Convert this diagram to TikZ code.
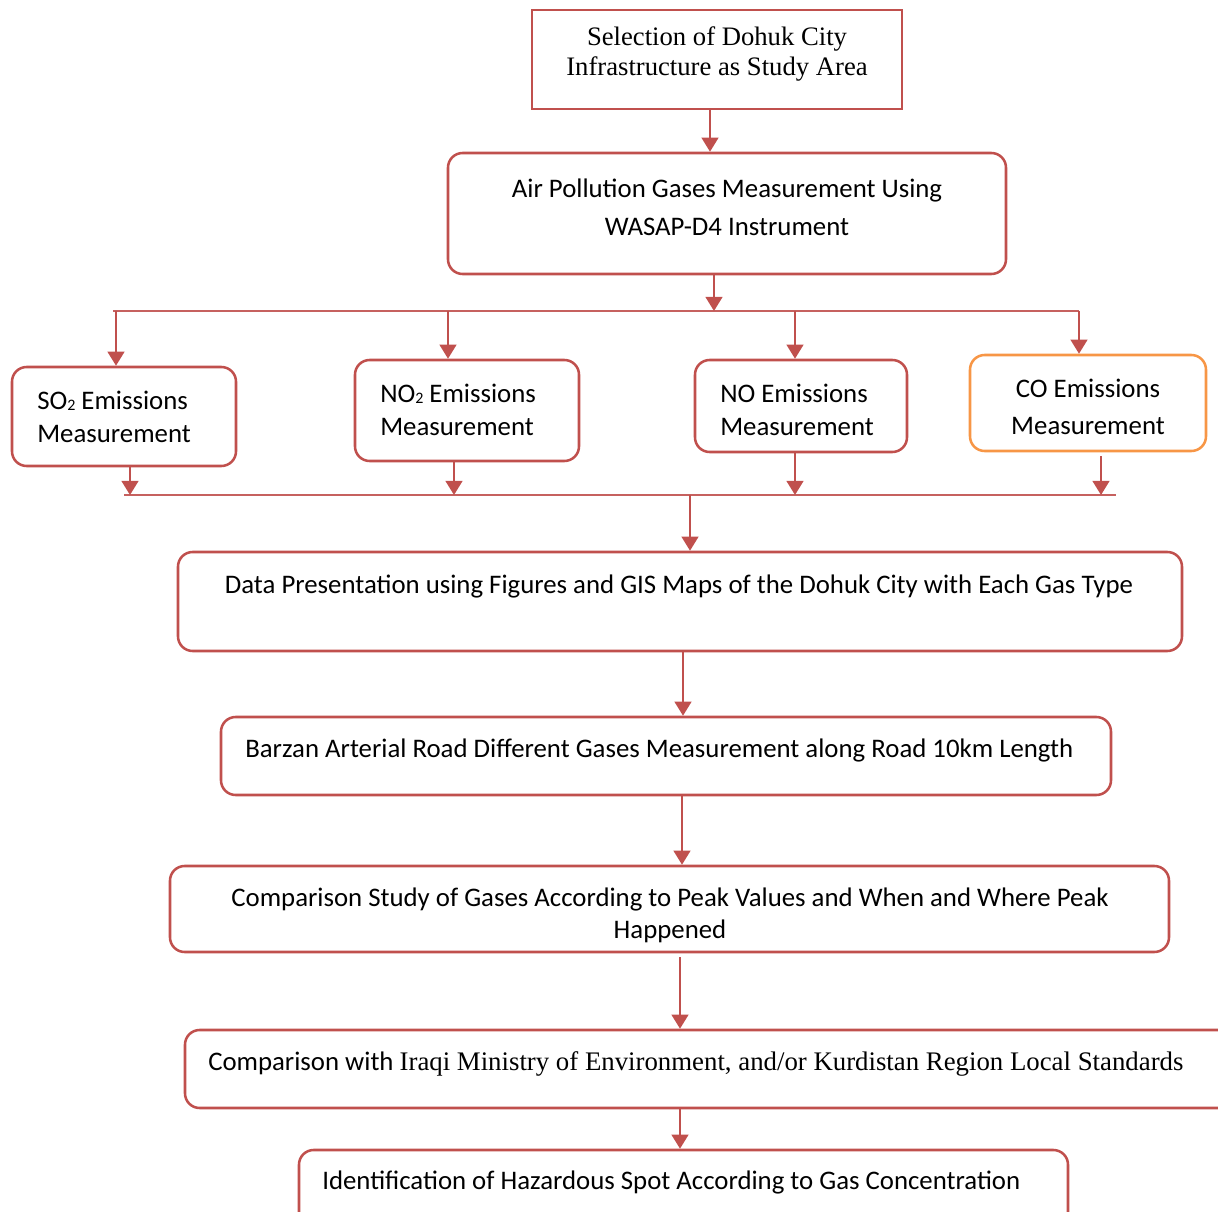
\documentclass[tikz,border=0pt]{standalone}
\usepackage{fontspec}
\setmainfont{Carlito}
\newfontfamily\tnr{Liberation Serif}
\usetikzlibrary{arrows.meta,fit}
\definecolor{rd}{HTML}{C0504D}
\definecolor{og}{HTML}{F79646}
\newcommand\gsub[1]{\raisebox{-1pt}{\fontsize{12}{12}\selectfont #1}}
\begin{document}
\begin{tikzpicture}[x=0.75pt,y=-0.75pt,
  box/.style={draw=rd,line width=1.9pt,rounded corners=11pt,inner sep=0pt},
  sq/.style={box,rounded corners=0pt},
  obox/.style={box,draw=og},
  txt/.style={inner sep=0pt,font=\fontsize{20.1}{24.75}\selectfont},
  conn/.style={draw=rd,line width=1.5pt,-{Triangle[width=12.5pt,length=10.5pt]}},
  bus/.style={draw=rd!90,line width=1.1pt}]
\useasboundingbox (0,0) rectangle (1218,1212);
\clip (0,0) rectangle (1218,1212);
% boxes
\node[sq, fit={(532,10)(902,109)}] (b1) {};
\node[box, fit={(448,153)(1006,274)}] (b2) {};
\node[box, fit={(12,367)(236,466)}] (so2) {};
\node[box, fit={(355,360)(579,461)}] (no2) {};
\node[box, fit={(695,360)(907,452)}] (no) {};
\node[obox, fit={(970,355)(1206,451)}] (co) {};
\node[box, fit={(178,552)(1182,651)}] (data) {};
\node[box, fit={(221,717)(1111,795)}] (barzan) {};
\node[box, fit={(170,866)(1169,952)}] (comp) {};
\node[box, fit={(185,1030)(1240,1108)}] (iraqi) {};
\node[box, fit={(299,1150)(1068,1232)}] (ident) {};
% texts
\node[txt, align=center, font=\tnr\fontsize{20}{22.5}\selectfont] (t1) at (717,54) {Selection of Dohuk City\\Infrastructure as Study Area};
\node[txt, align=center, font=\fontsize{20.1}{28.5}\selectfont] (t2) at (727,207) {Air Pollution Gases Measurement Using\\WASAP-D4 Instrument};
\node[txt, align=left, anchor=west] (tso2) at (37,417) {SO\gsub{2} Emissions\\Measurement};
\node[txt, align=left, anchor=west] (tno2) at (380,409.5) {NO\gsub{2} Emissions\\Measurement};
\node[txt, align=left, anchor=west] (tno) at (720,409.5) {NO Emissions\\Measurement};
\node[txt, align=center, font=\fontsize{20.1}{27.75}\selectfont] (tco) at (1088,407) {CO Emissions\\Measurement};
\node[txt] (tdata) at (679,586) {Data Presentation using Figures and GIS Maps of the Dohuk City with Each Gas Type};
\node[txt, anchor=west] (tbarzan) at (245,750) {Barzan Arterial Road Different Gases Measurement along Road 10km Length};
\node[txt, align=center, font=\fontsize{20.1}{24}\selectfont] (tcomp) at (670,915) {Comparison Study of Gases According to Peak Values and When and Where Peak\\Happened};
\node[txt, anchor=west] (tiraqi) at (208,1064) {Comparison with {\tnr Iraqi Ministry of Environment, and/or Kurdistan Region Local Standards}};
\node[txt, anchor=west] (tident) at (322,1182) {Identification of Hazardous Spot According to Gas Concentration};
% bus coordinates
\coordinate (tbl) at (113,311);
\coordinate (tbr) at (1079,311);
\coordinate (bbl) at (124,495);
\coordinate (bbr) at (1116,495);
\path (710,0) coordinate (x1) (714,0) coordinate (x2) (116,0) coordinate (x3)
      (448,0) coordinate (x4) (795,0) coordinate (x5) (1079,0) coordinate (x6)
      (130,0) coordinate (x7) (454,0) coordinate (x8) (1101,0) coordinate (x9)
      (690,0) coordinate (x10) (683,0) coordinate (x11) (682,0) coordinate (x12)
      (680,0) coordinate (x13);
% buses
\draw[bus] (tbl) -- (tbr);
\draw[bus] (bbl) -- (bbr);
% connectors
\draw[conn] (b1.south -| x1) -- (b2.north -| x1);
\draw[conn] (b2.south -| x2) -- (x2 |- tbl);
\draw[conn] (x3 |- tbl) -- (so2.north -| x3);
\draw[conn] (x4 |- tbl) -- (no2.north -| x4);
\draw[conn] (x5 |- tbl) -- (no.north -| x5);
\draw[conn] (tbr) -- (co.north -| x6);
\draw[conn] (so2.south -| x7) -- (x7 |- bbl);
\draw[conn] (no2.south -| x8) -- (x8 |- bbl);
\draw[conn] (no.south -| x5) -- (x5 |- bbl);
\draw[conn] ([yshift=-3pt]co.south -| x9) -- (x9 |- bbl);
\draw[conn] (x10 |- bbl) -- (data.north -| x10);
\draw[conn] (data.south -| x11) -- (barzan.north -| x11);
\draw[conn] (barzan.south -| x12) -- (comp.north -| x12);
\draw[conn] ([yshift=-3pt]comp.south -| x13) -- (iraqi.north -| x13);
\draw[conn] (iraqi.south -| x13) -- (ident.north -| x13);
\end{tikzpicture}
\end{document}
